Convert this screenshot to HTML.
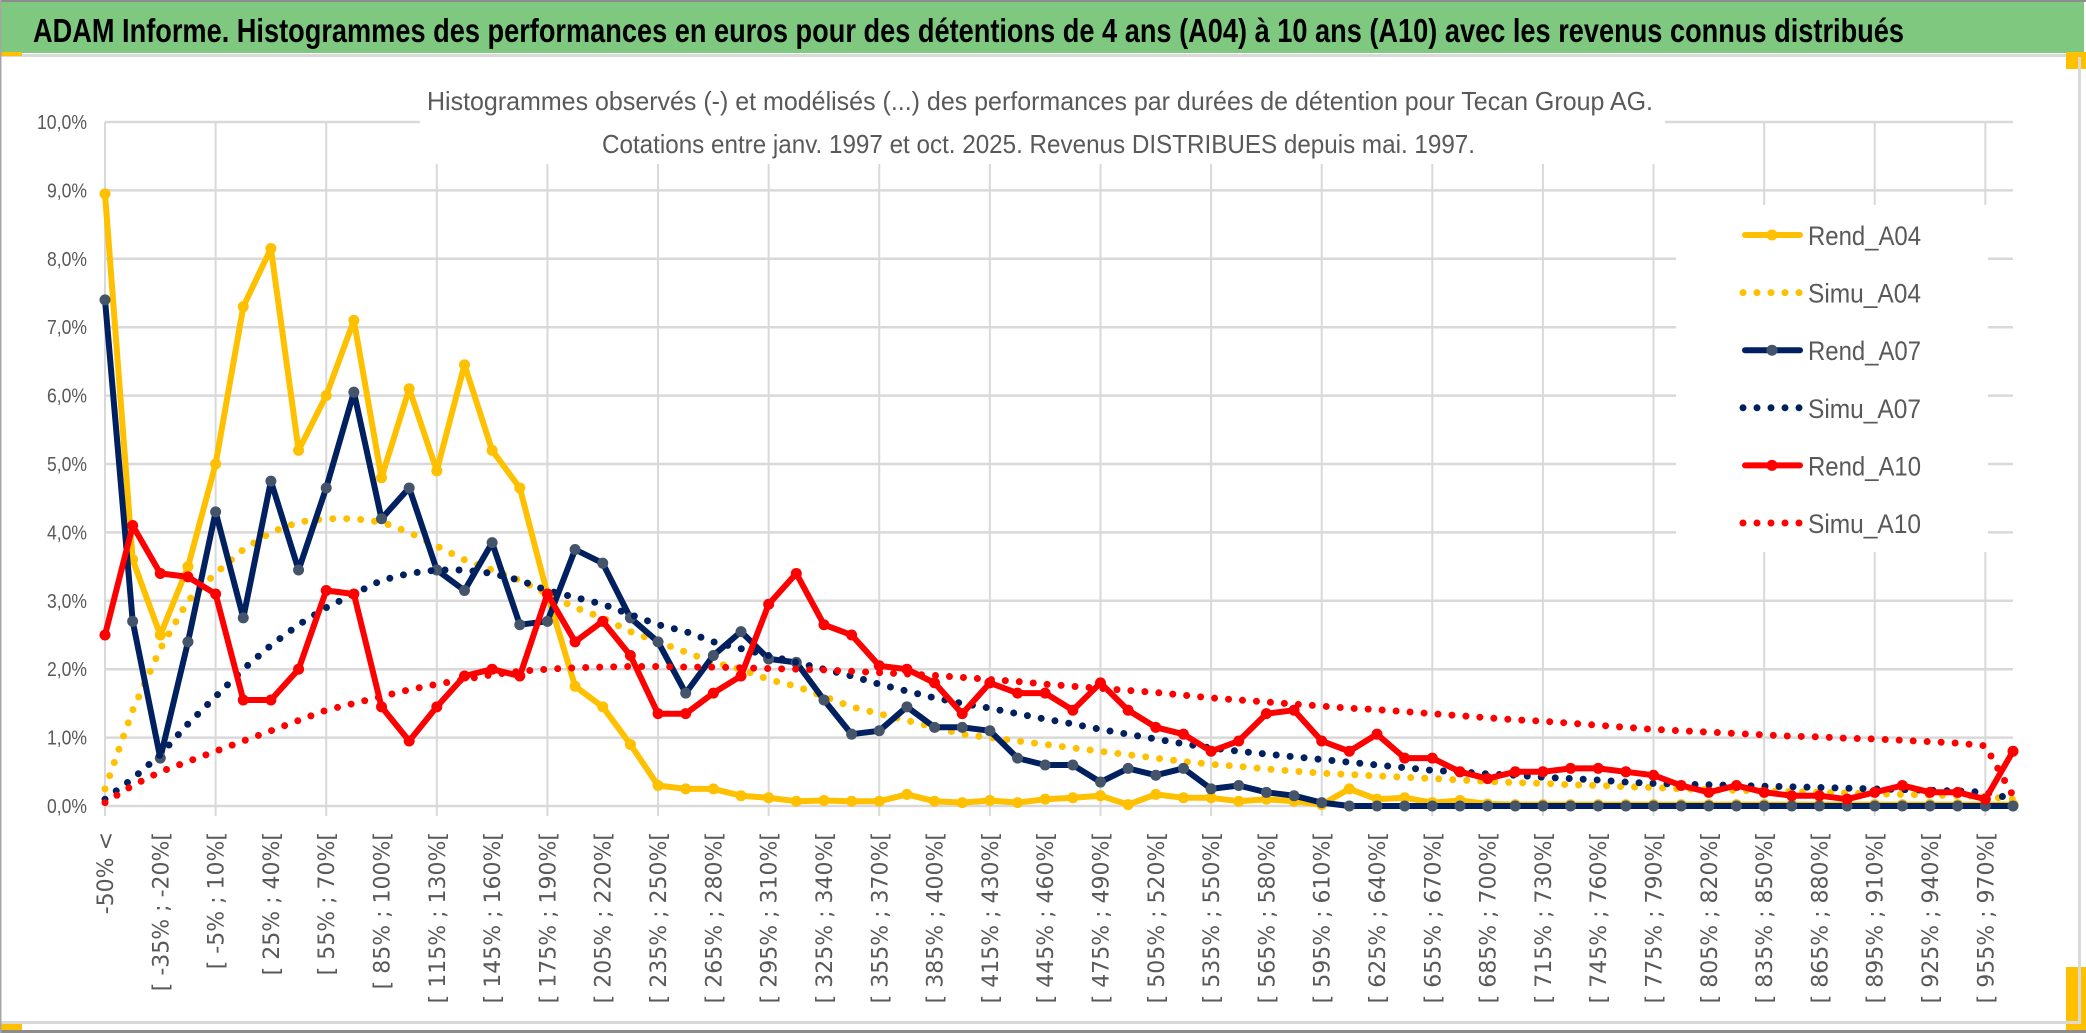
<!DOCTYPE html>
<html><head><meta charset="utf-8"><style>
html,body{margin:0;padding:0;background:#fff;}
svg{display:block;}
</style></head><body>
<svg id="chart" xmlns="http://www.w3.org/2000/svg" width="2086" height="1033" viewBox="0 0 2086 1033">
  <rect x="0" y="0" width="2086" height="1033" fill="#fff"/>
  <rect x="0" y="0" width="2086" height="2" fill="#8c8c8c"/>
  <rect x="0" y="2" width="2084" height="51" fill="#7ec97f"/>
  <text x="33" y="42" font-family="Liberation Sans, sans-serif" font-weight="bold" font-size="33" fill="#000" textLength="1871" lengthAdjust="spacingAndGlyphs">ADAM Informe. Histogrammes des performances en euros pour des détentions de 4 ans (A04) à 10 ans (A10) avec les revenus connus distribués</text>
  <rect x="0" y="54" width="2080" height="3" fill="#d9d9d9"/>
  <rect x="0" y="52" width="22" height="4" fill="#ffc000"/>
  <rect x="2066" y="52" width="20" height="17" fill="#ffc000"/>
  <rect x="2066" y="967" width="20" height="63" fill="#ffc000"/>
  <rect x="0" y="1023" width="22" height="7" fill="#ffc000"/>
  <rect x="2078" y="57" width="3" height="966" fill="#d9d9d9"/>
  <rect x="0" y="1021" width="2081" height="3" fill="#d9d9d9"/>
  <rect x="0" y="1030" width="2086" height="3" fill="#8c8c8c"/>
  <rect x="0" y="0" width="1.5" height="1033" fill="#a6a6a6"/>
  <g id="grid"></g>
  <g id="yaxis"></g>
  <g id="xaxis"></g>
  <rect x="420" y="78" width="1245" height="86" fill="#fff"/>
  <text x="427" y="110" font-family="Liberation Sans, sans-serif" font-size="26" fill="#595959" textLength="1226" lengthAdjust="spacingAndGlyphs">Histogrammes observés (-) et modélisés (...) des performances par durées de détention pour Tecan Group AG.</text>
  <text x="602" y="153" font-family="Liberation Sans, sans-serif" font-size="26" fill="#595959" textLength="873" lengthAdjust="spacingAndGlyphs">Cotations entre janv. 1997 et oct. 2025. Revenus DISTRIBUES depuis mai. 1997.</text>
  <g id="series"></g>
  <rect x="1676" y="205" width="312" height="347" fill="#fff"/>
  <g id="legend"></g>
</svg>
<script>
// ---- data ----
const categories = ["-50% <"];
for (let i = 1; i <= 68; i++) { const a = -50 + 15 * (i - 1); categories.push("[ " + a + "% ; " + (a + 15) + "%["); }
categories.push("> 970%");
const yTicks = [0,1,2,3,4,5,6,7,8,9,10];
const yTickLabels = ["0,0%","1,0%","2,0%","3,0%","4,0%","5,0%","6,0%","7,0%","8,0%","9,0%","10,0%"];
const rendA04 = [8.95,3.6,2.5,3.5,5.0,7.3,8.15,5.2,6.0,7.1,4.8,6.1,4.9,6.45,5.2,4.65,3.1,1.75,1.45,0.9,0.3,0.25,0.25,0.15,0.12,0.07,0.08,0.07,0.07,0.17,0.07,0.05,0.08,0.05,0.1,0.12,0.15,0.02,0.17,0.12,0.12,0.07,0.1,0.07,0.02,0.25,0.1,0.12,0.05,0.08,0.03,0.02,0.02,0.02,0.02,0.02,0.02,0.02,0.02,0.02,0.02,0.02,0.02,0.02,0.02,0.02,0.02,0.02,0.02,0.02];
const simuA04 = [0.25,1.4,2.3,3.0,3.4,3.75,4.0,4.15,4.2,4.2,4.15,4.0,3.8,3.6,3.45,3.3,3.1,2.9,2.75,2.55,2.4,2.25,2.1,2.0,1.85,1.75,1.6,1.45,1.35,1.25,1.15,1.05,1.0,0.95,0.9,0.85,0.8,0.75,0.7,0.65,0.61,0.58,0.54,0.51,0.48,0.46,0.44,0.42,0.4,0.38,0.36,0.34,0.33,0.31,0.3,0.28,0.27,0.25,0.24,0.23,0.22,0.21,0.2,0.19,0.18,0.17,0.16,0.15,0.14,0.1];
const rendA07 = [7.4,2.7,0.7,2.4,4.3,2.75,4.75,3.45,4.65,6.05,4.2,4.65,3.45,3.15,3.85,2.65,2.7,3.75,3.55,2.75,2.4,1.65,2.2,2.55,2.15,2.1,1.55,1.05,1.1,1.45,1.15,1.15,1.1,0.7,0.6,0.6,0.35,0.55,0.45,0.55,0.25,0.3,0.2,0.15,0.05,0,0,0,0,0,0,0,0,0,0,0,0,0,0,0,0,0,0,0,0,0,0,0,0,0];
const simuA07 = [0.1,0.4,0.75,1.2,1.6,2.0,2.35,2.65,2.9,3.1,3.3,3.4,3.45,3.45,3.4,3.3,3.15,3.05,2.95,2.8,2.65,2.55,2.4,2.3,2.2,2.1,2.0,1.9,1.78,1.68,1.58,1.5,1.43,1.35,1.27,1.2,1.12,1.05,0.98,0.91,0.85,0.8,0.76,0.72,0.68,0.64,0.6,0.56,0.52,0.5,0.47,0.45,0.42,0.4,0.38,0.35,0.33,0.32,0.31,0.3,0.29,0.28,0.27,0.26,0.25,0.24,0.23,0.22,0.2,0.1];
const rendA10 = [2.5,4.1,3.4,3.35,3.1,1.55,1.55,2.0,3.15,3.1,1.45,0.95,1.45,1.9,2.0,1.9,3.1,2.4,2.7,2.2,1.35,1.35,1.65,1.9,2.95,3.4,2.65,2.5,2.05,2.0,1.8,1.35,1.8,1.65,1.65,1.4,1.8,1.4,1.15,1.05,0.8,0.95,1.35,1.4,0.95,0.8,1.05,0.7,0.7,0.5,0.4,0.5,0.5,0.55,0.55,0.5,0.45,0.3,0.2,0.3,0.2,0.15,0.15,0.1,0.2,0.3,0.2,0.2,0.1,0.8];
const simuA10 = [0.05,0.3,0.5,0.65,0.8,0.95,1.1,1.25,1.4,1.5,1.6,1.7,1.78,1.85,1.92,1.97,2.0,2.02,2.03,2.04,2.04,2.03,2.03,2.02,2.01,2.0,1.99,1.97,1.95,1.93,1.91,1.88,1.85,1.82,1.78,1.75,1.72,1.69,1.66,1.62,1.58,1.55,1.52,1.49,1.46,1.43,1.41,1.38,1.35,1.32,1.29,1.26,1.24,1.21,1.18,1.15,1.12,1.1,1.08,1.06,1.04,1.02,1.01,0.99,0.98,0.96,0.94,0.92,0.88,0.15];

// ---- axes ----
const X0 = 105, X1 = 2013, Y0 = 806, Y10 = 122;
function xPos(i) { return X0 + i * (X1 - X0) / (categories.length - 1); }
function yPos(v) { return Y0 - v * (Y0 - Y10) / 10; }
const NS = "http://www.w3.org/2000/svg";
function mk(tag, attrs, parent) { const e = document.createElementNS(NS, tag); for (const k in attrs) e.setAttribute(k, attrs[k]); parent.appendChild(e); return e; }

const grid = document.getElementById("grid");
yTicks.forEach(function (t) {
  const l = mk("line", {x1: X0, x2: X1, y1: yPos(t), y2: yPos(t), stroke: "#d9d9d9", "stroke-width": 2.5}, grid);
  
  
});
for (let i = 0; i < categories.length; i += 4) {
  const l = mk("line", {x1: xPos(i), x2: xPos(i), y1: yPos(10), y2: yPos(0) + 10, stroke: "#d9d9d9", "stroke-width": 2}, grid);
  
  
}
const yaxis = document.getElementById("yaxis");
yTicks.forEach(function (t, k) {
  const lbl = yTickLabels[k];
  const tx = mk("text", {x: 87, y: yPos(t) + 7, "text-anchor": "end", "font-family": "Liberation Sans, sans-serif", "font-size": 20, fill: "#595959", textLength: lbl.length > 4 ? 50 : 40, lengthAdjust: "spacingAndGlyphs"}, yaxis);
  tx.textContent = lbl;
  
  
});
const xaxis = document.getElementById("xaxis");
categories.forEach(function (c, i) {
  if (i % 2 !== 0) return;
  const x = xPos(i) + 8, y = 832;
  const tx = mk("text", {x: x, y: y, transform: "rotate(-90 " + x + " " + y + ")", "text-anchor": "end", "font-family": "DejaVu Sans, sans-serif", "font-size": 22, fill: "#595959"}, xaxis);
  tx.textContent = c;
  
  
});

// ---- series ----
const layer = document.getElementById("series");
function pts(arr) { return arr.map(function (v, i) { return xPos(i).toFixed(1) + "," + yPos(v).toFixed(1); }).join(" "); }
function dotted(arr, color, name) {
  const p = mk("polyline", {points: pts(arr), fill: "none", stroke: color, "stroke-width": 7, "stroke-dasharray": "0 14", "stroke-linecap": "round", "stroke-linejoin": "round"}, layer);
  
  
}
function solid(arr, color, mcolor, name) {
  const g = mk("g", {}, layer);
  
  
  const p = mk("polyline", {points: pts(arr), fill: "none", stroke: color, "stroke-width": 6, "stroke-linejoin": "round"}, g);
  
  
  arr.forEach(function (v, i) {
    const c = mk("circle", {cx: xPos(i), cy: yPos(v), r: 5.5, fill: mcolor}, g);
    
    
  });
}
solid(rendA04, "#ffc000", "#ffc000", "rend-a04-series");
dotted(simuA04, "#ffc000", "simu-a04-series");
solid(rendA07, "#002060", "#44546a", "rend-a07-series");
dotted(simuA07, "#002060", "simu-a07-series");
solid(rendA10, "#ff0000", "#ff0000", "rend-a10-series");
dotted(simuA10, "#ff0000", "simu-a10-series");

// ---- legend ----
const legendNames = ["Rend_A04","Simu_A04","Rend_A07","Simu_A07","Rend_A10","Simu_A10"];
const legendColors = ["#ffc000","#ffc000","#002060","#002060","#ff0000","#ff0000"];
const legendMarker = ["#ffc000","","#44546a","","#ff0000",""];
const leg = document.getElementById("legend");
legendNames.forEach(function (n, k) {
  const y = 235 + k * 57.6;
  const g = mk("g", {}, leg);
  
  
  if (legendMarker[k]) {
    mk("line", {x1: 1745, x2: 1800, y1: y, y2: y, stroke: legendColors[k], "stroke-width": 6, "stroke-linecap": "round"}, g);
    mk("circle", {cx: 1772, cy: y, r: 5.5, fill: legendMarker[k]}, g);
  } else {
    mk("line", {x1: 1743, x2: 1800, y1: y, y2: y, stroke: legendColors[k], "stroke-width": 7, "stroke-dasharray": "0 14", "stroke-linecap": "round"}, g);
  }
  const t = mk("text", {x: 1808, y: y + 10, "font-family": "Liberation Sans, sans-serif", "font-size": 27, fill: "#595959", textLength: 113, lengthAdjust: "spacingAndGlyphs"}, g);
  t.textContent = n;
});
</script>
</body></html>
